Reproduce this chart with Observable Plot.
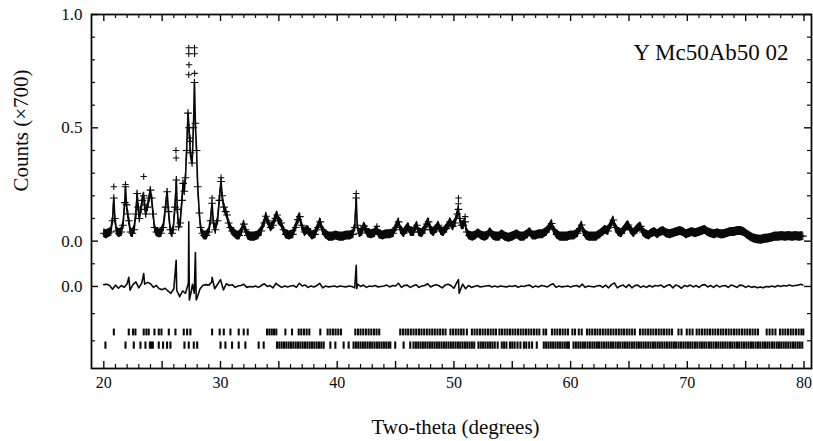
<!DOCTYPE html>
<html><head><meta charset="utf-8">
<script src="https://cdn.jsdelivr.net/npm/d3@7"></script>
<script src="https://cdn.jsdelivr.net/npm/@observablehq/plot@0.6"></script>
<style>body{margin:0;background:#fff}</style>
</head><body><div id="chart"></div>
<script>
// ---- data ----
const sampleLabel = "Y Mc50Ab50 02";
const xTitle = "Two-theta (degrees)";
const yTitle = "Counts (\u00d7700)";
const xLabelTicks = [20, 30, 40, 50, 60, 70, 80];
const yTickValues = [1.0, 0.5, 0.0, -0.2];
const yTickLabels = ["1.0", "0.5", "0.0", "0.0"];
const yMinorTicks = [0.9, 0.8, 0.7, 0.6, 0.4, 0.3, 0.2, 0.1, -0.1, -0.32, -0.44];
const diffOffset = -0.2;
const obsScatter = 0.02;   // vertical spread of the dense observed crosses

// calculated profile [2theta, counts/700]
const calcProfile = [
[20.0,.035],[20.2,.03],[20.4,.035],[20.6,.04],[20.75,.09],[20.86,.19],[20.95,.10],[21.1,.045],[21.3,.035],[21.5,.04],
[21.65,.07],[21.8,.17],[21.86,.24],[21.95,.16],[22.05,.12],[22.15,.09],[22.3,.04],[22.45,.035],[22.6,.05],[22.75,.12],
[22.86,.21],[22.95,.15],[23.05,.10],[23.2,.14],[23.3,.18],[23.42,.20],[23.5,.16],[23.6,.12],[23.75,.15],[23.9,.19],
[24.0,.225],[24.1,.19],[24.23,.12],[24.35,.06],[24.5,.04],[24.7,.035],[24.9,.035],[25.1,.06],[25.3,.15],[25.43,.218],
[25.55,.13],[25.7,.05],[25.85,.035],[25.95,.05],[26.1,.15],[26.22,.27],[26.3,.14],[26.42,.063],[26.55,.08],[26.7,.18],
[26.8,.255],[26.9,.22],[27.0,.28],[27.1,.40],[27.22,.565],[27.3,.50],[27.42,.39],[27.57,.345],[27.68,.50],[27.77,.70],
[27.85,.52],[27.95,.40],[28.05,.24],[28.19,.124],[28.3,.06],[28.45,.035],[28.6,.025],[28.8,.025],[29.0,.04],[29.15,.09],
[29.28,.167],[29.4,.08],[29.56,.05],[29.75,.09],[29.9,.18],[30.05,.263],[30.15,.2],[30.3,.15],[30.45,.13],[30.56,.115],
[30.7,.08],[30.85,.06],[31.0,.045],[31.2,.035],[31.42,.025],[31.6,.025],[31.8,.04],[32.0,.075],[32.15,.05],[32.35,.025],
[32.6,.02],[32.9,.02],[33.2,.025],[33.5,.045],[33.75,.08],[33.9,.11],[34.05,.09],[34.3,.06],[34.5,.07],[34.7,.10],
[34.85,.115],[35.0,.09],[35.2,.08],[35.4,.05],[35.6,.03],[35.9,.025],[36.2,.03],[36.45,.06],[36.65,.095],[36.8,.108],
[36.95,.07],[37.2,.04],[37.45,.05],[37.6,.04],[37.85,.025],[38.1,.03],[38.35,.06],[38.55,.085],[38.75,.05],[39.0,.03],
[39.3,.02],[39.6,.02],[39.9,.025],[40.2,.02],[40.5,.02],[40.8,.025],[41.1,.025],[41.35,.03],[41.5,.06],[41.63,.19],
[41.72,.07],[41.9,.035],[42.1,.04],[42.3,.066],[42.45,.055],[42.6,.035],[42.9,.03],[43.2,.035],[43.4,.05],[43.6,.03],
[43.9,.025],[44.2,.03],[44.5,.03],[44.8,.035],[45.05,.06],[45.26,.085],[45.45,.05],[45.7,.035],[45.9,.05],[46.1,.063],
[46.3,.04],[46.55,.04],[46.83,.07],[47.0,.04],[47.25,.035],[47.5,.05],[47.7,.075],[47.83,.085],[48.0,.05],[48.25,.04],
[48.5,.055],[48.68,.07],[48.9,.045],[49.1,.04],[49.35,.055],[49.55,.07],[49.68,.085],[49.9,.065],[50.1,.08],[50.3,.12],
[50.39,.14],[50.5,.1],[50.65,.07],[50.8,.07],[50.96,.085],[51.1,.04],[51.3,.025],[51.6,.02],[51.85,.025],[52.1,.035],
[52.35,.025],[52.65,.02],[52.9,.025],[53.1,.04],[53.35,.025],[53.6,.02],[53.9,.02],[54.1,.03],[54.4,.02],[54.7,.015],
[55.0,.02],[55.2,.025],[55.4,.03],[55.7,.02],[56.0,.02],[56.3,.03],[56.5,.04],[56.75,.025],[57.0,.025],[57.3,.03],
[57.6,.03],[57.9,.04],[58.15,.055],[58.38,.078],[58.55,.05],[58.8,.03],[59.1,.02],[59.4,.02],[59.7,.02],[60.0,.025],
[60.3,.025],[60.6,.035],[60.8,.055],[60.95,.071],[61.1,.045],[61.35,.025],[61.6,.02],[61.9,.02],[62.2,.02],[62.5,.03],
[62.75,.04],[62.95,.05],[63.2,.045],[63.45,.07],[63.66,.093],[63.85,.06],[64.1,.04],[64.35,.035],[64.6,.05],[64.8,.065],
[64.95,.071],[65.15,.05],[65.4,.035],[65.65,.05],[65.85,.06],[66.0,.065],[66.2,.04],[66.45,.03],[66.7,.025],[66.95,.035],
[67.2,.04],[67.45,.03],[67.7,.04],[67.95,.045],[68.2,.035],[68.5,.03],[68.8,.035],[69.1,.04],[69.4,.045],[69.65,.04],
[69.9,.03],[70.15,.035],[70.4,.04],[70.7,.035],[71.0,.04],[71.25,.045],[71.5,.05],[71.75,.04],[72.0,.035],[72.3,.03],
[72.6,.035],[72.85,.03],[73.1,.03],[73.4,.035],[73.7,.04],[74.0,.04],[74.3,.045],[74.6,.045],[74.85,.04],[75.1,.03],
[75.4,.02],[75.7,.012],[76.0,.008],[76.3,.006],[76.6,.01],[76.9,.012],[77.2,.015],[77.5,.02],[77.8,.02],[78.1,.022],
[78.4,.02],[78.7,.022],[79.0,.02],[79.3,.022],[79.6,.02],[79.9,.022]
];

// observed points standing above the calculated peaks
const obsPeakTops = [
[20.86,.24],[21.86,.25],[23.42,.285],[26.18,.40],[26.2,.367],[27.28,.853],[27.28,.827],[27.3,.778],[27.28,.734],
[27.77,.853],[27.78,.827],[27.78,.74],[27.4,.455],[27.4,.44],[41.63,.21],[50.39,.19],[50.39,.165],[50.96,.108],
[30.05,.28],[29.28,.19],[43.4,.065],[37.5,.055]
];

// difference curve (obs - calc), sampled every 0.25 deg from 20
const diffStart = 20, diffStep = 0.25;
const diffValues = [
.008,.01,.004,-.012,.006,-.008,.004,-.004,.012,-.016,.008,.02,-.006,.015,.01,.018,.012,-.004,.004,-.01,
-.014,-.008,-.02,-.03,-.01,-.02,-.045,-.02,-.03,.02,-.02,-.03,-.05,-.01,.005,.008,.006,.02,-.01,.01,
.03,-.015,.012,.004,.008,-.004,.002,.004,.01,-.004,0,-.002,.002,-.004,.004,.012,0,.004,-.006,.014,
.004,-.004,.002,-.002,.002,.004,-.004,.014,.002,.006,-.004,.002,-.002,.004,.014,-.006,.002,-.002,0,.002,
-.002,.002,0,-.002,.002,0,-.006,.01,0,.006,-.004,.002,0,.004,-.002,0,.002,.006,-.002,.004,
.002,.014,-.004,.004,.006,-.004,.002,.008,-.004,.002,.004,.012,-.002,.004,.008,.002,-.006,.006,.01,.004,
-.008,.018,-.022,.01,-.01,.004,-.004,0,.004,-.002,0,.002,.004,-.002,.002,-.002,.002,0,-.002,.002,
0,.004,-.004,.002,0,.004,.006,-.004,.002,-.002,.004,.002,-.002,.006,.012,-.004,.002,-.002,0,.002,
-.002,.002,.004,-.002,.01,-.004,.002,0,-.002,.002,.004,-.004,.006,-.006,.008,.016,-.006,.002,.006,-.004,
.008,-.006,.004,.006,-.004,.002,-.004,.004,-.002,.004,.002,.006,-.004,.004,.008,-.006,.006,.002,-.008,.004,
0,.006,-.002,.004,-.004,.006,.008,-.002,.004,-.004,.006,-.002,.002,.004,-.004,.006,.002,-.004,.006,.004,
-.004,.002,-.004,0,-.006,-.002,-.006,0,-.002,.002,-.002,.004,0,.004,.002,.006,.002,.004,.006,.01
];
const diffSpikes = [
[22.14,.04],[23.42,.057],[26.2,.115],[26.28,-.02],[27.22,.01],[27.28,.285],[27.33,-.06],[27.6,.01],
[27.85,.15],[27.92,-.06],[29.28,.04],[41.63,.093],[41.68,-.01],[50.39,.03],[50.45,-.03],[79.9,.006]
];

// reflection positions, phase 1 (upper row) and phase 2 (lower row)
const braggRow1 = [
20.86,22.14,22.51,22.71,23.42,23.65,23.85,24.34,24.71,24.94,25.57,26.14,26.85,27.14,27.42,
29.28,29.93,30.28,30.85,31.56,31.99,32.33,
33.99,34.19,34.39,34.58,34.78,35.56,36.13,36.7,36.92,37.15,37.38,37.61,38.55,39.18,39.41,39.64,39.86,40.09,40.32,
41.55,41.78,42.0,42.23,42.46,42.69,42.92,43.15,43.37,43.6,
45.4,45.63,45.86,46.08,46.31,46.54,46.77,47.0,47.22,47.45,47.68,47.91,48.14,48.36,48.59,48.82,49.05,49.28,
49.7,49.93,50.16,50.39,50.62,50.83,51.11,
51.54,51.77,52.0,52.23,52.46,52.69,52.92,53.15,53.38,53.6,
53.9,54.12,54.35,54.58,54.8,55.03,55.26,55.49,55.72,55.95,56.17,56.4,56.63,56.86,57.09,57.32,
57.68,57.9,58.4,58.63,58.86,59.09,59.32,59.55,59.78,60.15,60.38,60.7,60.95,
61.4,61.62,61.85,62.08,62.3,62.53,62.76,62.99,63.22,63.44,63.67,63.9,64.13,64.36,64.58,64.81,65.04,65.27,65.5,
65.95,66.18,66.41,66.64,66.86,67.09,67.32,67.55,67.78,68.0,68.23,68.46,68.69,
69.24,69.5,69.95,70.2,70.45,
70.8,71.03,71.26,71.49,71.72,71.94,72.17,72.4,72.63,72.86,73.08,73.31,73.54,73.77,74.0,74.22,74.45,74.68,74.91,75.14,75.36,75.59,75.82,76.05,
76.8,77.05,77.3,77.55,
77.94,78.17,78.4,78.63,78.86,79.08,79.31,79.54,79.77,79.94
];
const braggRow2 = [
20.14,21.86,22.57,23.14,23.57,23.95,24.08,24.2,24.71,25.08,25.42,25.71,26.91,27.28,27.71,28.0,
30.0,30.42,30.99,31.56,32.13,33.27,33.7,
34.84,35.04,35.24,35.44,35.64,35.84,36.04,36.24,36.44,36.64,36.84,37.04,37.24,37.44,37.64,37.84,38.04,38.24,38.44,38.64,38.84,
39.41,39.84,40.55,40.98,
41.4,41.6,41.8,42.0,42.2,42.4,42.6,42.8,43.0,43.2,43.4,43.6,43.8,44.0,44.2,44.4,44.55,
44.97,45.69,46.26,
46.54,46.74,46.94,47.14,47.34,47.54,47.74,47.94,48.14,48.34,48.54,48.74,48.94,49.14,49.34,49.54,49.74,49.94,50.14,50.34,50.54,50.74,50.94,51.14,51.34,51.54,51.74,
52.1,52.3,52.5,52.7,52.9,53.1,53.3,53.5,53.75,
54.1,54.3,54.5,54.8,55.0,55.2,55.45,55.7,56.0,56.2,56.45,56.7,57.1,
57.7,57.9,58.1,58.3,58.5,58.7,58.9,59.1,59.3,59.5,59.7,59.85,
60.25,60.45,60.66,60.85,61.05,61.24,61.45,61.65,61.86,62.05,62.25,62.44,62.65,62.85,63.06,63.25,63.45,63.64,63.85,64.05,
64.25,64.46,64.65,64.85,65.04,65.25,65.45,65.66,65.85,66.05,66.25,66.44,66.65,66.85,67.06,67.25,67.45,67.64,67.85,68.05,
68.25,68.46,68.65,68.85,69.04,69.25,69.45,69.66,69.85,70.05,70.25,70.44,70.65,70.85,71.06,71.25,71.45,71.64,71.85,72.05,
72.25,72.46,72.65,72.85,73.04,73.25,73.45,73.66,73.85,74.05,74.25,74.44,74.65,74.85,75.06,75.25,75.45,75.64,75.85,76.05,
76.25,76.46,76.65,76.85,77.04,77.25,77.45,77.66,77.85,78.05,78.25,78.44,78.65,78.85,79.06,79.25,79.45,79.64,79.85
];

// ---- layout ----
const W = 813, H = 441, mL = 91, mR = 2, mT = 14, mB = 73;
const frameW = W - mL - mR, frameH = H - mT - mB;
const xDomain = [18.946, 80.64];
const yDomain = [-0.562, 1.0];

const diffData = diffValues.map((d, i) => [diffStart + diffStep * i, d]).concat(diffSpikes).sort((a, b) => a[0] - b[0]);
const xMajor = d3.range(20, 81, 5);
const xMinor = d3.range(20, 81, 1).filter(d => d % 5 !== 0);

const font = "'Liberation Serif', 'Times New Roman', serif";
const ink = "#0a0a0a";
const chart = Plot.plot({
  width: W, height: H,
  marginLeft: mL, marginRight: mR, marginTop: mT, marginBottom: mB,
  style: {fontFamily: font, background: "#fff", color: ink},
  x: {domain: xDomain},
  y: {domain: yDomain},
  marks: [
    Plot.frame({stroke: ink, strokeWidth: 1.8}),
    // inward ticks, bottom and top
    Plot.tickX(xMajor, {x: d => d, insetTop: frameH - 7, stroke: ink, strokeWidth: 1.4}),
    Plot.tickX(xMinor, {x: d => d, insetTop: frameH - 4, stroke: ink, strokeWidth: 1.2}),
    Plot.tickX(xMajor, {x: d => d, insetBottom: frameH - 7, stroke: ink, strokeWidth: 1.4}),
    Plot.tickX(xMinor, {x: d => d, insetBottom: frameH - 4, stroke: ink, strokeWidth: 1.2}),
    // inward ticks, left and right
    Plot.tickY(yTickValues, {y: d => d, insetRight: frameW - 7, stroke: ink, strokeWidth: 1.4}),
    Plot.tickY(yMinorTicks, {y: d => d, insetRight: frameW - 4, stroke: ink, strokeWidth: 1.2}),
    Plot.tickY(yTickValues, {y: d => d, insetLeft: frameW - 7, stroke: ink, strokeWidth: 1.4}),
    Plot.tickY(yMinorTicks, {y: d => d, insetLeft: frameW - 4, stroke: ink, strokeWidth: 1.2}),
    Plot.axisX({ticks: xLabelTicks, tickSize: 0, tickPadding: 8, fontSize: 16, label: null}),
    Plot.axisY({ticks: yTickValues, tickSize: 0, tickPadding: 9, fontSize: 17, label: null,
      tickFormat: d => yTickLabels[yTickValues.indexOf(d)]}),
    // reflection markers
    Plot.ruleX(braggRow1, {x: d => d, y1: -0.388, y2: -0.418, stroke: ink, strokeWidth: 2.1}),
    Plot.ruleX(braggRow2, {x: d => d, y1: -0.445, y2: -0.477, stroke: ink, strokeWidth: 2.1}),
    // difference curve
    Plot.line(diffData, {x: d => d[0], y: d => d[1] + diffOffset, stroke: ink, strokeWidth: 1.6}),
    // observed points: dense band of crosses along the profile, plus crosses above peaks
    Plot.areaY(calcProfile, {x: d => d[0], y1: d => d[1] - obsScatter, y2: d => d[1] + obsScatter, fill: ink}),
    Plot.dot(calcProfile, {x: d => d[0], y: d => d[1], symbol: "plus", r: 2.6, stroke: ink, strokeWidth: 1.1}),
    Plot.dot(obsPeakTops, {x: d => d[0], y: d => d[1], symbol: "plus", r: 2.2, stroke: ink, strokeWidth: 1.1}),
    // calculated profile
    Plot.line(calcProfile, {x: d => d[0], y: d => d[1], stroke: ink, strokeWidth: 1.6}),
    // texts
    Plot.text([sampleLabel], {frameAnchor: "top-right", dx: -23, dy: 38.5, textAnchor: "end", lineAnchor: "middle", fontSize: 23}),
    Plot.text([xTitle], {frameAnchor: "bottom", dx: 4, dy: 59, textAnchor: "middle", lineAnchor: "middle", fontSize: 21}),
    Plot.text([yTitle], {frameAnchor: "left", dx: -70, dy: -61, textAnchor: "middle", lineAnchor: "middle", rotate: -90, fontSize: 21})
  ]
});
document.getElementById("chart").appendChild(chart);
</script>
</body></html>
